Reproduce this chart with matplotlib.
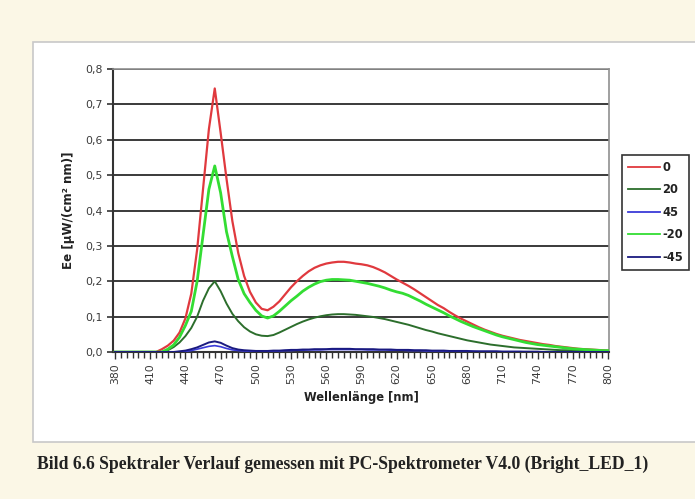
import numpy as np
import matplotlib
matplotlib.use("Agg")
import matplotlib.pyplot as plt
from matplotlib.patches import Rectangle
from matplotlib.ticker import MultipleLocator, FuncFormatter

# ---------------- data ----------------
wavelength = list(range(380, 805, 5))

s_0 = [0, 0, 0, 0, 0, 0, 0, 0, 0.008, 0.018, 0.032, 0.055, 0.095, 0.165, 0.29, 0.46, 0.63, 0.745,
       0.62, 0.49, 0.37, 0.28, 0.215, 0.17, 0.14, 0.122, 0.118, 0.128, 0.143, 0.163, 0.183, 0.20,
       0.215, 0.228, 0.238, 0.245, 0.25, 0.253, 0.255, 0.255, 0.253, 0.25, 0.248, 0.245, 0.24,
       0.233, 0.225, 0.215, 0.205, 0.196, 0.187, 0.177, 0.166, 0.155, 0.144, 0.133, 0.124, 0.113,
       0.103, 0.094, 0.086, 0.078, 0.07, 0.063, 0.057, 0.051, 0.046, 0.042, 0.038, 0.034, 0.031,
       0.028, 0.025, 0.022, 0.02, 0.017, 0.015, 0.013, 0.011, 0.009, 0.008, 0.007, 0.006, 0.005, 0.004]

s_20 = [0, 0, 0, 0, 0, 0, 0, 0, 0, 0.005, 0.014, 0.027, 0.045, 0.068, 0.1, 0.145, 0.18, 0.2,
        0.172, 0.137, 0.108, 0.087, 0.07, 0.058, 0.05, 0.046, 0.045, 0.048, 0.055, 0.063, 0.071,
        0.079, 0.086, 0.092, 0.097, 0.101, 0.104, 0.106, 0.107, 0.107, 0.106, 0.105, 0.103, 0.101,
        0.099, 0.096, 0.093, 0.089, 0.085, 0.081, 0.077, 0.072, 0.067, 0.062, 0.058, 0.053, 0.049,
        0.045, 0.041, 0.037, 0.033, 0.03, 0.027, 0.024, 0.021, 0.019, 0.017, 0.015, 0.013, 0.012,
        0.011, 0.01, 0.009, 0.008, 0.007, 0.006, 0.005, 0.005, 0.004, 0.004, 0.003, 0.003, 0.003,
        0.002, 0.002]

s_45 = [0, 0, 0, 0, 0, 0, 0, 0, 0, 0, 0, 0, 0.002, 0.004, 0.008, 0.012, 0.016, 0.018,
        0.015, 0.01, 0.006, 0.004, 0.003, 0.002, 0.002, 0.002, 0.002, 0.003, 0.003, 0.004, 0.004,
        0.005, 0.005, 0.006, 0.006, 0.006, 0.007, 0.007, 0.007, 0.007, 0.007, 0.007, 0.007, 0.006,
        0.006, 0.006, 0.006, 0.005, 0.005, 0.005, 0.004, 0.004, 0.004, 0.003, 0.003, 0.003, 0.003,
        0.002, 0.002, 0.002, 0.002, 0.002, 0.001, 0.001, 0.001, 0.001, 0.001, 0.001, 0.001, 0.001,
        0, 0, 0, 0, 0, 0, 0, 0, 0, 0, 0, 0, 0, 0, 0]

s_m20 = [0, 0, 0, 0, 0, 0, 0, 0, 0, 0.008, 0.02, 0.042, 0.075, 0.115, 0.2, 0.33, 0.46, 0.526,
         0.45, 0.34, 0.27, 0.205, 0.165, 0.14, 0.118, 0.102, 0.096, 0.102, 0.115, 0.13, 0.145,
         0.158, 0.172, 0.183, 0.192, 0.199, 0.203, 0.205, 0.205, 0.204, 0.203, 0.2, 0.197, 0.194,
         0.19, 0.186, 0.181, 0.175, 0.17, 0.166, 0.16, 0.152, 0.144, 0.135, 0.127, 0.119, 0.111,
         0.102, 0.094, 0.086, 0.079, 0.072, 0.066, 0.06, 0.054, 0.048, 0.043, 0.039, 0.035, 0.031,
         0.027, 0.024, 0.021, 0.019, 0.017, 0.015, 0.013, 0.011, 0.009, 0.008, 0.007, 0.006, 0.005,
         0.004, 0.004]

s_m45 = [0, 0, 0, 0, 0, 0, 0, 0, 0, 0, 0, 0.002, 0.004, 0.008, 0.013, 0.02, 0.027, 0.03,
         0.026, 0.018, 0.011, 0.007, 0.005, 0.004, 0.003, 0.003, 0.003, 0.004, 0.004, 0.005, 0.006,
         0.006, 0.007, 0.007, 0.008, 0.008, 0.008, 0.009, 0.009, 0.009, 0.009, 0.008, 0.008, 0.008,
         0.008, 0.007, 0.007, 0.007, 0.006, 0.006, 0.006, 0.005, 0.005, 0.005, 0.004, 0.004, 0.004,
         0.003, 0.003, 0.003, 0.003, 0.002, 0.002, 0.002, 0.002, 0.002, 0.001, 0.001, 0.001, 0.001,
         0.001, 0.001, 0.001, 0, 0, 0, 0, 0, 0, 0, 0, 0, 0, 0, 0]

series_labels = ["0", "20", "45", "-20", "-45"]
series_values = [s_0, s_20, s_45, s_m20, s_m45]
series_colors = ["#e0393e", "#2c6e2c", "#3a3ad8", "#33dd33", "#1a1a80"]
series_widths = [1.6, 1.4, 1.2, 2.0, 1.4]

x_tick_labels = list(range(380, 801, 30))
y_ticks = [0.0, 0.1, 0.2, 0.3, 0.4, 0.5, 0.6, 0.7, 0.8]

title_x = "Wellenlänge [nm]"
title_y = "Ee [µW/(cm² nm)]"
caption = "Bild 6.6 Spektraler Verlauf gemessen mit PC-Spektrometer V4.0 (Bright_LED_1)"

# ---------------- figure ----------------
W, H = 695, 499
fig = plt.figure(figsize=(W / 100, H / 100), dpi=100)
fig.patch.set_facecolor("#fbf7e6")

# white chart frame
frame = Rectangle((33 / W, 1 - 442 / H), 1.0, 400 / H, transform=fig.transFigure,
                  facecolor="white", edgecolor="#c8c8c8", linewidth=1.2, zorder=-10)
fig.patches.append(frame)

ax = fig.add_axes([113 / W, 1 - 352 / H, (609 - 113) / W, (352 - 69) / H])
ax.set_zorder(1)
ax.set_facecolor("white")

lines = {}
for i in [1, 3, 0, 2, 4]:
    (ln,) = ax.plot(wavelength, series_values[i], color=series_colors[i],
                    lw=series_widths[i], label=series_labels[i], zorder=3 + i * 0.1,
                    solid_joinstyle="round")
    lines[i] = ln

ax.set_xlim(378.3, 800.9)
ax.set_ylim(0, 0.8)

ax.set_yticks(y_ticks)
ax.yaxis.set_major_formatter(FuncFormatter(lambda v, p: f"{v:.1f}".replace(".", ",")))
ax.set_xticks(x_tick_labels)
ax.set_xticklabels([str(v) for v in x_tick_labels], rotation=90)
ax.xaxis.set_minor_locator(MultipleLocator(5))

ax.grid(axis="y", color="#3a3a3a", lw=1.4, zorder=1)
ax.set_axisbelow(True)

for side in ["top", "right"]:
    ax.spines[side].set_color("#909090")
    ax.spines[side].set_linewidth(1.2)
ax.spines["left"].set_color("#333333")
ax.spines["left"].set_linewidth(1.5)
ax.spines["bottom"].set_color("#333333")
ax.spines["bottom"].set_linewidth(1.5)

ax.tick_params(axis="both", which="major", labelsize=7.8, labelcolor="#3a3a3a",
               color="#333333", direction="out")
ax.tick_params(axis="y", length=4, width=1.2)
ax.tick_params(axis="x", which="major", length=5, width=1.0, pad=3)
ax.tick_params(axis="x", which="minor", length=4, width=1.0, color="#333333")

ax.set_xlabel(title_x, fontsize=8.3, fontweight="bold", color="#222222", labelpad=5)
ax.set_ylabel(title_y, fontsize=8.6, fontweight="bold", color="#222222", labelpad=7)

handles = [lines[i] for i in range(5)]
leg = ax.legend(handles, series_labels, loc="upper left", bbox_to_anchor=(622 / W, 1 - 155 / H),
                bbox_transform=fig.transFigure, frameon=True, fancybox=False,
                edgecolor="#333333", framealpha=1, fontsize=8.3, handlelength=2.8,
                handletextpad=0.2, labelspacing=0.83, borderpad=0.5, borderaxespad=0)
leg.get_frame().set_linewidth(1.2)
for t in leg.get_texts():
    t.set_fontweight("bold")
    t.set_color("#222222")
for lh in leg.get_lines():
    lh.set_linewidth(1.3)

fig.text(37 / W, 1 - 464 / H, caption, family="Liberation Serif", fontweight="bold",
         fontsize=12.7, color="#222222", va="center", ha="left")

fig.savefig("out.png", dpi=100, facecolor=fig.get_facecolor())
